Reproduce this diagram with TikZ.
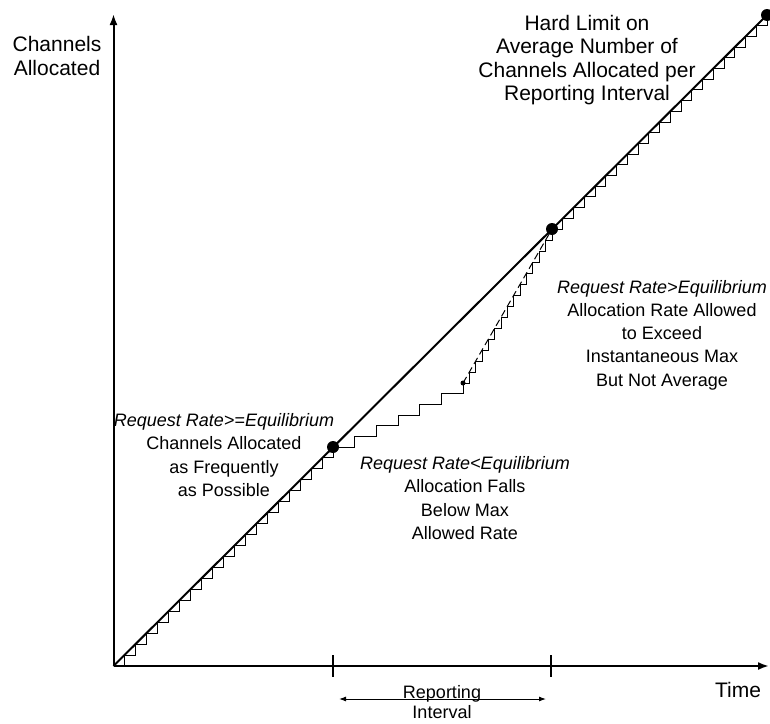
\documentclass[tikz,border=0pt]{standalone}
\usepackage{fontspec}
\setmainfont{Liberation Sans}
\usetikzlibrary{calc,arrows.meta}

\begin{document}
\begin{tikzpicture}[x=1pt,y=-1pt,
    axis/.style={line width=2pt,-{Latex[length=11pt,width=8pt]}},
    limit/.style={line width=2pt},
    stairs/.style={line width=1pt},
    big/.style={font=\fontsize{21}{23.5}\selectfont,align=center,inner sep=0pt},
    note/.style={font=\fontsize{18}{23.3}\selectfont,align=center,inner sep=0pt}]
    \useasboundingbox (0,0) rectangle (770,723);

    % Draw axes
    \coordinate (o) at (113.5,666);
    \coordinate (ytip) at (113.5,14);
    \coordinate (xtip) at (769,666);
    \draw[axis] (o) -- (ytip); % Channels axis
    \draw[axis] (o) -- (xtip); % Time axis

    % Draw hard limit line
    \coordinate (top) at (767,15);
    \draw[limit] (o) -- (top);

    % Points on the allocation curve
    \coordinate (pa) at (333,447);
    \coordinate (pc) at (463,383);
    \coordinate (pb) at (552,229);

    % Draw allocation steps
    \draw[stairs] (o) \foreach \i in {1,...,20} { -| ($(o)!\i/20!(pa)$) };
    \draw[stairs] (pa) \foreach \i in {1,...,6} { -| ($(pa)!\i/6!(pc)$) };
    \draw[stairs] (pc) \foreach \i in {1,...,14} { -| ($(pc)!\i/14!(pb)$) };
    \draw[stairs] (pb) \foreach \i in {1,...,20} { -| ($(pb)!\i/20!(top)$) };
    \draw[stairs,dashed,dash pattern=on 7pt off 4pt] (pc) -- (pb);

    % Mark points
    \fill (pa) circle[radius=6pt];
    \fill (pb) circle[radius=6pt];
    \fill (top) circle[radius=6pt];
    \fill (pc) circle[radius=2.5pt];

    % Reporting interval ticks
    \coordinate (ta) at (333,666);
    \coordinate (tb) at (551,666);
    \draw[limit] ([yshift=11pt]ta) -- ([yshift=-11pt]ta);
    \draw[limit] ([yshift=11pt]tb) -- ([yshift=-11pt]tb);
    \coordinate (ia) at (339,699);
    \coordinate (ib) at (546,699);
    \draw[line width=1pt,{Latex[length=7pt,width=5pt]}-{Latex[length=7pt,width=5pt]}] (ia) -- (ib);

    % Label axes
    \node[big] (ylbl) at (57,56) {Channels\\Allocated};
    \node[big] (xlbl) at (738,690) {Time};
    \node[font=\fontsize{18}{20}\selectfont,align=center,inner sep=0pt] (intlbl) at (442,702) {Reporting\\Interval};

    % Label regions
    \node[big] (limitlbl) at (587,60) {Hard Limit on\\Average Number of\\Channels Allocated per\\Reporting Interval};
    \node[note] (fastlbl) at (224,455) {\textit{Request Rate>=Equilibrium}\\Channels Allocated\\as Frequently\\as Possible};
    \node[note] (lowlbl) at (465,498) {\textit{Request Rate<Equilibrium}\\Allocation Falls\\Below Max\\Allowed Rate};
    \node[note] (highlbl) at (662,335) {\textit{Request Rate>Equilibrium}\\Allocation Rate Allowed\\to Exceed\\Instantaneous Max\\But Not Average};
\end{tikzpicture}
\end{document}
